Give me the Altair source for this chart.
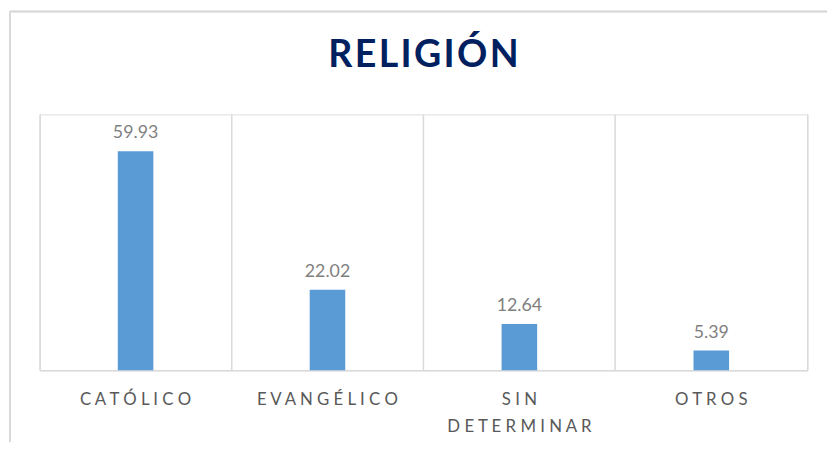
import altair as alt
import pandas as pd

categories = ["CATÓLICO", "EVANGÉLICO", "SIN DETERMINAR", "OTROS"]
values = [59.93, 22.02, 12.64, 5.39]
value_labels = ["59.93", "22.02", "12.64", "5.39"]

df = pd.DataFrame({"cat": categories, "val": values, "lbl": value_labels})

SP = " "
HAIR = "\u200a"

def spaced(word, sep=SP):
    return sep.join(list(word))

label_map = {c: [spaced(w) for w in c.split(" ")] for c in categories}
label_expr = "{" + ", ".join(
    "'" + k + "': [" + ", ".join("'" + s + "'" for s in v) + "]" for k, v in label_map.items()
) + "}[datum.value]"

FONT = "Lato"
GRID = "#d9d9d9"

x = alt.X(
    "cat:N",
    sort=categories,
    title=None,
    scale=alt.Scale(paddingInner=0, paddingOuter=0),
    axis=alt.Axis(
        labelExpr=label_expr,
        labelAngle=0,
        labelFont=FONT,
        labelFontSize=17,
        labelColor="#595959",
        labelPadding=30,
        labelLineHeight=27,
        labelBaseline="middle",
        ticks=False,
        domainColor=GRID,
        domainWidth=1.5,
        grid=True,
        gridColor=GRID,
        gridWidth=1.5,
        bandPosition=0,
    ),
)

y = alt.Y(
    "val:Q",
    title=None,
    scale=alt.Scale(domain=[0, 70], nice=False),
    axis=alt.Axis(
        orient="right",
        labels=False,
        ticks=False,
        grid=False,
        domainColor=GRID,
        domainWidth=1.5,
    ),
)

bars = alt.Chart(df).mark_bar(size=36, color="#5B9BD5").encode(x=x, y=y)

text = alt.Chart(df).mark_text(
    baseline="alphabetic", dy=-13, font=FONT, fontSize=18, color="#7F7F7F"
).encode(x=alt.X("cat:N", sort=categories), y="val:Q", text="lbl:N")

frame_left = alt.Chart(df).mark_rule(color=GRID, strokeWidth=1.5).encode(
    x=alt.value(-30), y=alt.value(-104), y2=alt.value(340)
)
frame_top = alt.Chart(df).mark_rule(color=GRID, strokeWidth=1.5).encode(
    x=alt.value(-30), x2=alt.value(800), y=alt.value(-104)
)

chart = (
    alt.layer(frame_left, frame_top, bars, text)
    .properties(
        width=777,
        height=259,
        padding={"left": 32, "top": 105, "right": 20, "bottom": 70},
        autosize=alt.AutoSizeParams(type="none"),
        title=alt.TitleParams(
            text=spaced("RELIGIÓN", HAIR),
            font=FONT,
            fontSize=38,
            fontWeight="bold",
            color="#002060",
            anchor="middle",
            baseline="alphabetic",
            offset=-95,
        ),
    )
    .configure_view(stroke=None)
    .configure(background="white")
)

chart.save("out.html", embed_options={"renderer": "svg", "actions": False})
